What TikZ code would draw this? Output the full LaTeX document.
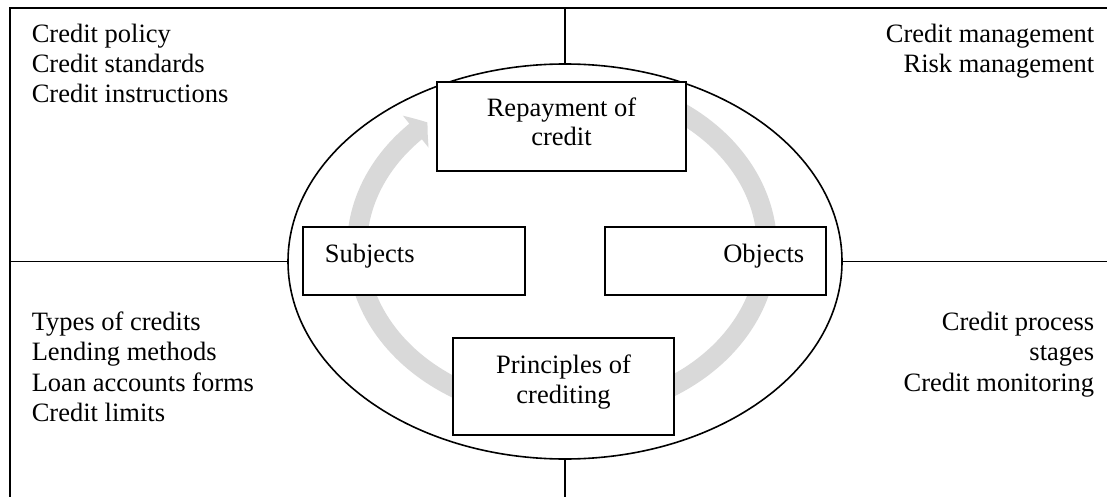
\documentclass[tikz,border=0pt]{standalone}
\usepackage{fontspec}
\setmainfont{Liberation Serif}
\usetikzlibrary{shapes.geometric,arrows.meta,bending}
\definecolor{arcgray}{HTML}{D9D9D9}
\begin{document}
\begin{tikzpicture}[x=1pt,y=-1pt,
  line width=1.6pt,
  box/.style={draw=black, fill=white, rectangle, inner sep=0pt, line width=1.6pt},
  txt/.style={inner sep=0pt, font=\fontsize{26.5}{30}\selectfont},
  flow/.style={line width=20pt, draw=arcgray, -{Triangle[width=40pt,length=15pt,bend]}},
]
\useasboundingbox (0,0) rectangle (1107,497);
\fill[white] (0,0) rectangle (1107,497);
\coordinate (tr) at (1107,8);
\coordinate (tl) at (10,8);
\coordinate (bl) at (10,497);
\coordinate (rm) at (1107,261.5);
\coordinate (arcc) at (562,247);
\node[draw, ellipse, minimum width=554pt, minimum height=395pt, inner sep=0pt, outer sep=0pt] (ell) at (565,261.5) {};
\draw (tr) -- (tl) -- (bl);
\draw (ell.west) -- (ell.west -| tl);
\draw (ell.east) -- (rm);
\draw (ell.north) -- (ell.north |- tl);
\draw (ell.south) -- (ell.south |- bl);
% circular flow arrow
\draw[flow] (arcc) ++(60:205pt and 165pt) arc[start angle=60, end angle=-229, x radius=205pt, y radius=165pt];
% boxes
\node[box, minimum width=249pt, minimum height=89pt] (rep) at (561.5,126.5) {};
\node[box, minimum width=222pt, minimum height=68pt] (subj) at (414,261) {};
\node[box, minimum width=221pt, minimum height=68pt] (obj) at (715.5,261) {};
\node[box, minimum width=221pt, minimum height=97pt] (prin) at (563.5,386.5) {};
% box texts
\node[txt, anchor=base] (rep1) at (561.5,116.7) {Repayment of};
\node[txt, anchor=base] (rep2) at (561.5,146) {credit};
\node[txt, anchor=base west] (subjt) at (324,262) {Subjects};
\node[txt, anchor=base east] (objt) at (805,262) {Objects};
\node[txt, anchor=base] (prin1) at (563.5,373) {Principles of};
\node[txt, anchor=base] (prin2) at (563.5,403) {crediting};
% corner texts
\node[txt, anchor=base west] (tl1) at (31,43) {Credit policy};
\node[txt, anchor=base west] (tl2) at (31,73) {Credit standards};
\node[txt, anchor=base west] (tl3) at (31,103) {Credit instructions};
\node[txt, anchor=base east] (tr1) at (1095,43) {Credit management};
\node[txt, anchor=base east] (tr2) at (1095,73) {Risk management};
\node[txt, anchor=base west] (bl1) at (31,330) {Types of credits};
\node[txt, anchor=base west] (bl2) at (31,360.5) {Lending methods};
\node[txt, anchor=base west] (bl3) at (31,391) {Loan accounts forms};
\node[txt, anchor=base west] (bl4) at (31,421.5) {Credit limits};
\node[txt, anchor=base east] (br1) at (1095,330) {Credit process};
\node[txt, anchor=base east] (br2) at (1095,360.5) {stages};
\node[txt, anchor=base east] (br3) at (1095,391) {Credit monitoring};
\end{tikzpicture}
\end{document}
